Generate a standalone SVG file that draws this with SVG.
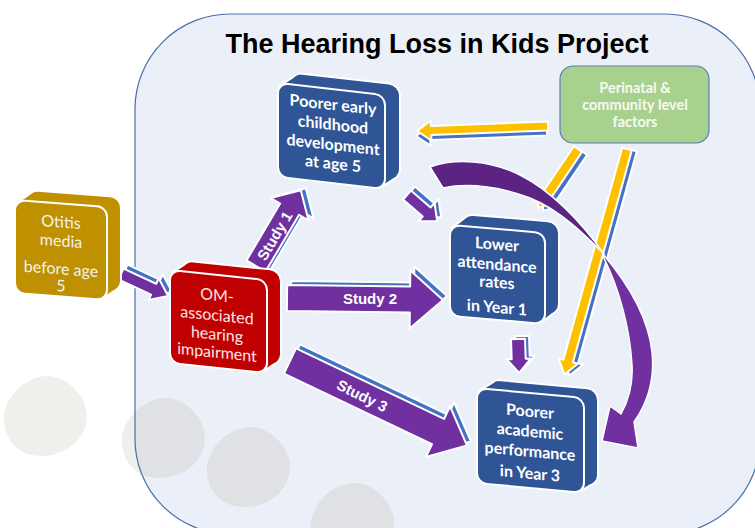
<svg xmlns="http://www.w3.org/2000/svg" width="755" height="528" viewBox="0 0 755 528">
  <defs>
    <style>
      .frame{fill:#EAEFF8}
      .frame-line{fill:none;stroke:#4A6EA9;stroke-width:1.2}
      .blob-out{fill:#EFEFEB}
      .blob-in{fill:#E0E1E4}
      .title{font-family:"Liberation Sans",Arial,sans-serif;font-weight:bold;font-size:27px;fill:#000;text-anchor:middle}
      .gold{fill:#BF9000}
      .red{fill:#C00000}
      .blue{fill:#2F5597}
      .outline{stroke:#fff;stroke-width:4;stroke-linejoin:round}
      .solid{stroke:none}
      .face{stroke:#fff;stroke-width:2}
      .lbl{font-family:Lato,"Open Sans",sans-serif;font-size:16px;text-anchor:middle;stroke:none}
      .plain{fill:#F4F2EC}
      .pink{fill:#FBE4E4}
      .bold{fill:#fff;font-weight:bold}
      .green-box{fill:#A9D18E;stroke:#5A7DB5;stroke-width:1.2}
      .green-lbl{font-family:Lato,"Open Sans",sans-serif;font-size:14.5px;font-weight:bold;fill:#F6FAF2;text-anchor:middle}
      .purple{fill:#7030A0;stroke:#fff;stroke-width:2;stroke-linejoin:round}
      .side{fill:#4472C4;stroke:#fff;stroke-width:2;stroke-linejoin:round}
      .amber{fill:#FFC000;stroke:#fff;stroke-width:2;stroke-linejoin:round}
      .curve-back{fill:#5B2382;stroke:#fff;stroke-width:1.5;stroke-linejoin:round}
      .curve-front{fill:#7030A0;stroke:#fff;stroke-width:1.5;stroke-linejoin:round}
      .study{font-family:"Liberation Sans",Arial,sans-serif;font-weight:bold;font-size:15px;fill:#fff;text-anchor:middle}
    </style>
    <clipPath id="inside"><rect x="135" y="14" width="625" height="520" rx="95"/></clipPath>
    <path id="blob" d="M-41,5 C-43,-15 -22,-40 3,-40 C22,-40 42,-20 42,0 C42,22 22,40 -4,40 C-26,40 -40,25 -41,5 Z"/>
    <!-- block arrows, drawn along +x and then placed -->
    <polygon id="a-om" transform="translate(121,274) rotate(25)" points="0,-6 36,-6 36,-12 52,0 36,12 36,6 0,6"/>
    <polygon id="a-s1" transform="translate(256,266) rotate(-59.4)" points="0,-11 66,-11 66,-22 88,0 66,22 66,11 0,11"/>
    <polygon id="a-s2" transform="translate(287,298) rotate(0.7)" points="0,-13 123,-13 123,-29 156,0 123,29 123,13 0,13"/>
    <polygon id="a-s3" transform="translate(290,361) rotate(25.5)" points="0,-14 164,-14 164,-28 196,0 164,28 164,14 0,14"/>
    <polygon id="a-ea" transform="translate(407,195) rotate(41)" points="0,-6 26,-6 26,-12 40,0 26,12 26,6 0,6"/>
    <polygon id="a-aa" transform="translate(518,339) rotate(88)" points="0,-7 20,-7 20,-12 34,0 20,12 20,7 0,7"/>
    <polygon id="y-e" transform="translate(548,126) rotate(177.8)" points="0,-4.5 117,-4.5 117,-10 131,0 117,10 117,4.5 0,4.5"/>
    <polygon id="y-a" transform="translate(578,149) rotate(124)" points="0,-5 58,-5 58,-10 71,0 58,10 58,5 0,5"/>
    <polygon id="y-p" transform="translate(627,149) rotate(105.5)" points="0,-5 220,-5 220,-10 234,0 220,10 220,5 0,5"/>
  </defs>

  <rect width="755" height="528" fill="#fff"/>

  <g id="backdrop">
    <use href="#blob" class="blob-out" transform="translate(45,416)"/>
    <use href="#blob" class="blob-out" transform="translate(163,438)"/>
    <rect class="frame" x="135" y="14" width="625" height="520" rx="95"/>
    <g clip-path="url(#inside)">
      <use href="#blob" class="blob-in" transform="translate(163,438)"/>
      <use href="#blob" class="blob-in" transform="translate(248,467)"/>
      <use href="#blob" class="blob-in" transform="translate(352,523)"/>
    </g>
    <rect class="frame-line" x="135" y="14" width="625" height="520" rx="95"/>
    <text class="title" x="437" y="53">The Hearing Loss in Kids Project</text>
  </g>

  <g id="connectors">
    <g id="otitis-to-om"><use href="#a-om" class="side" transform="translate(4,-4)"/><use href="#a-om" class="purple"/></g>
    <g id="study-1"><use href="#a-s1" class="side" transform="translate(5,-2)"/><use href="#a-s1" class="purple"/>
      <text class="study" transform="translate(275,236) rotate(-59.4)" y="5">Study 1</text></g>
    <g id="study-2"><use href="#a-s2" class="side" transform="translate(4,-4)"/><use href="#a-s2" class="purple"/>
      <text class="study" x="370" y="304">Study 2</text></g>
    <g id="study-3"><use href="#a-s3" class="side" transform="translate(4,-4)"/><use href="#a-s3" class="purple"/>
      <text class="study" transform="translate(362,396) rotate(26)" y="5">Study 3</text></g>
    <g id="early-to-attendance"><use href="#a-ea" class="side" transform="translate(4,-4)"/><use href="#a-ea" class="purple"/></g>
    <g id="attendance-to-academic"><use href="#a-aa" class="side" transform="translate(4,-3)"/><use href="#a-aa" class="purple"/></g>
    <g id="factors-to-early"><use href="#y-e" class="side" transform="translate(-1,5)"/><use href="#y-e" class="amber"/></g>
    <g id="factors-to-attendance"><use href="#y-a" class="side" transform="translate(5,3)"/><use href="#y-a" class="amber"/></g>
    <g id="factors-to-academic"><use href="#y-p" class="side" transform="translate(5,1)"/><use href="#y-p" class="amber"/></g>
    <g id="early-to-academic">
      <path class="curve-back" d="M430,167 C455,158 490,160 520,175 C550,190 580,220 604,254 C585,235 560,210 530,198 C505,188 470,182 443,188 Z"/>
      <path class="curve-front" d="M603,254 C625,280 648,315 652,352 C655,380 648,402 634,422 L638,448 L602,441 L610,406 L621,414 C630,398 633,382 632,365 C630,330 620,290 603,256 Z"/>
    </g>
  </g>

  <g id="otitis" class="gold" transform="translate(15,200) skewY(4.3)">
    <g class="outline"><g id="otitis-body"><rect x="13" y="-10" width="92" height="93" rx="10"/><polygon points="3,3 16,-7 102,80 89,90"/></g></g>
    <use href="#otitis-body" class="solid"/>
    <rect class="face" width="92" height="93" rx="10"/>
    <text class="lbl plain" x="46" y="24">Otitis</text>
    <text class="lbl plain" x="46" y="43">media</text>
    <text class="lbl plain" x="46" y="71">before age</text>
    <text class="lbl plain" x="46" y="88">5</text>
  </g>

  <g id="om-hearing" class="red" transform="translate(170,270) skewY(5.9)">
    <g class="outline"><g id="om-body"><rect x="13" y="-10" width="97" height="93" rx="10"/><polygon points="3,3 16,-7 107,80 94,90"/></g></g>
    <use href="#om-body" class="solid"/>
    <rect class="face" width="97" height="93" rx="10"/>
    <text class="lbl pink" x="47" y="26">OM-</text>
    <text class="lbl pink" x="47" y="46">associated</text>
    <text class="lbl pink" x="47" y="65">hearing</text>
    <text class="lbl pink" x="47" y="83">impairment</text>
  </g>

  <g id="early-development" class="blue" transform="translate(278,83) skewY(6.4)">
    <g class="outline"><g id="early-body"><rect x="14" y="-11" width="107" height="94" rx="10"/><polygon points="3,3 17,-8 118,80 104,91"/></g></g>
    <use href="#early-body" class="solid"/>
    <rect class="face" width="107" height="94" rx="10"/>
    <text class="lbl bold" x="55" y="21">Poorer early</text>
    <text class="lbl bold" x="55" y="41">childhood</text>
    <text class="lbl bold" x="55" y="61">development</text>
    <text class="lbl bold" x="55" y="80">at age 5</text>
  </g>

  <g id="attendance" class="blue" transform="translate(450,225) skewY(4.8)">
    <g class="outline"><g id="attendance-body"><rect x="13" y="-11" width="95" height="91" rx="10"/><polygon points="3,3 16,-8 105,77 92,88"/></g></g>
    <use href="#attendance-body" class="solid"/>
    <rect class="face" width="95" height="91" rx="10"/>
    <text class="lbl bold" x="47" y="21">Lower</text>
    <text class="lbl bold" x="47" y="41">attendance</text>
    <text class="lbl bold" x="47" y="59">rates</text>
    <text class="lbl bold" x="47" y="84">in Year 1</text>
  </g>

  <g id="academic" class="blue" transform="translate(477,388) skewY(5.3)">
    <g class="outline"><g id="academic-body"><rect x="13" y="-9" width="107" height="95" rx="10"/><polygon points="3,3 16,-6 117,83 104,92"/></g></g>
    <use href="#academic-body" class="solid"/>
    <rect class="face" width="107" height="95" rx="10"/>
    <text class="lbl bold" x="53" y="24">Poorer</text>
    <text class="lbl bold" x="53" y="44">academic</text>
    <text class="lbl bold" x="53" y="64">performance</text>
    <text class="lbl bold" x="53" y="86">in Year 3</text>
  </g>

  <g id="factors">
    <rect class="green-box" x="560" y="66" width="149" height="77" rx="13"/>
    <text class="green-lbl" x="635" y="93">Perinatal &amp;</text>
    <text class="green-lbl" x="635" y="110">community level</text>
    <text class="green-lbl" x="635" y="127">factors</text>
  </g>
</svg>
